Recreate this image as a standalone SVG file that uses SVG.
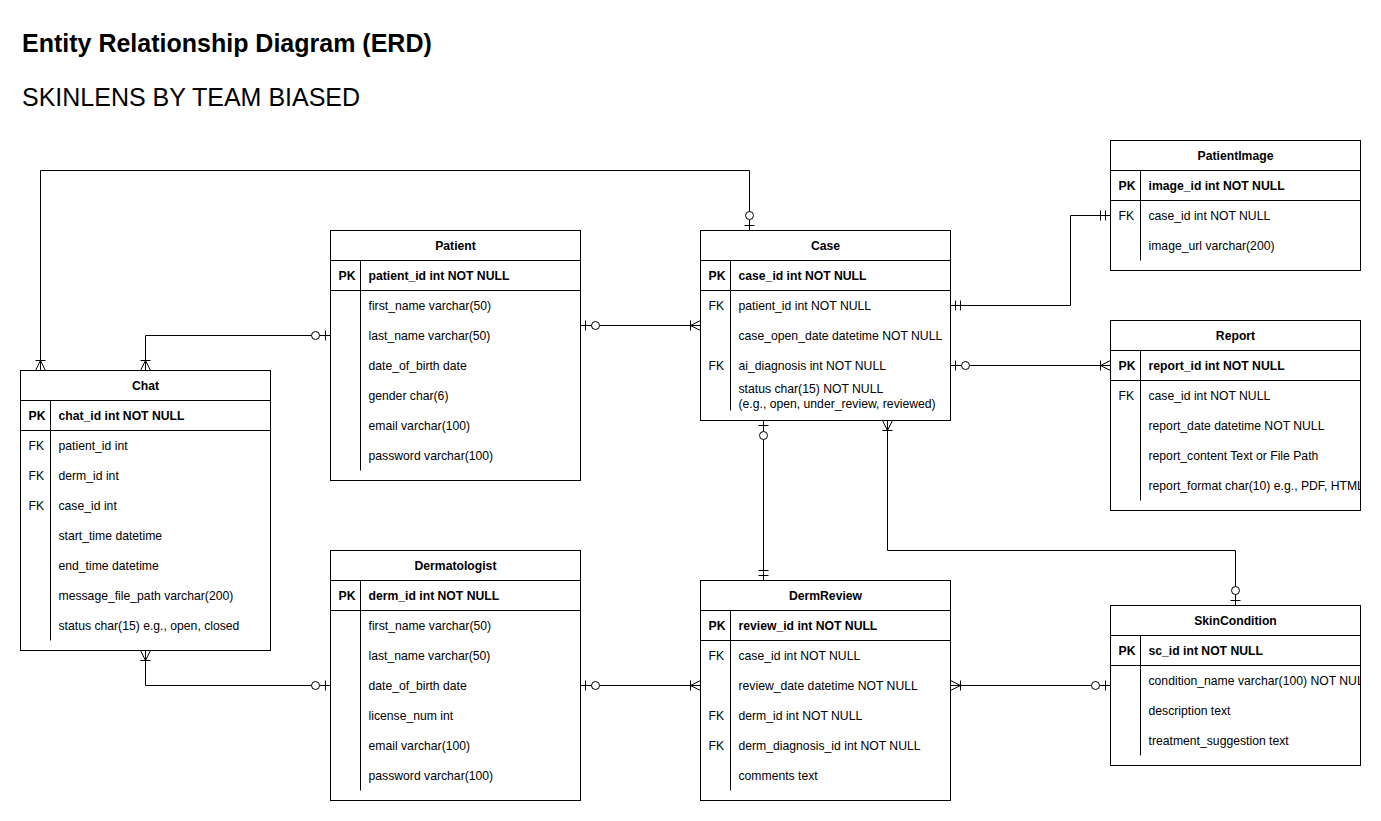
<svg xmlns="http://www.w3.org/2000/svg" width="1381" height="821" viewBox="0 0 1381 821">
<style>
.box{fill:#fff;stroke:#000;stroke-width:1}
.ln{stroke:#000;stroke-width:1;fill:none}
.h{font-family:"Liberation Sans",Arial,sans-serif;font-size:12.2px;font-weight:bold;text-anchor:middle;fill:#000}
.t{font-family:"Liberation Sans",Arial,sans-serif;font-size:12.2px;fill:#000}
.b{font-weight:bold}
.sym{stroke:#000;stroke-width:1;fill:none}
.title{font-family:"Liberation Sans",Arial,sans-serif;font-size:25px;fill:#000}
</style>
<defs>
<g id="zo"><path d="M-5 -5V5"/><circle cx="-15" cy="0" r="4" fill="#fff"/></g>
<g id="mo"><path d="M-5 -5V5M-10 -5V5"/></g>
<g id="om"><path d="M-10 -5V5M0 -5L-10 0L0 5"/></g>
<clipPath id="clipReport"><rect x="1110" y="320" width="250" height="190"/></clipPath>
<clipPath id="clipSkin"><rect x="1110" y="605" width="250" height="160"/></clipPath>
</defs>
<rect width="1381" height="821" fill="#fff"/>
<text x="22" y="52" class="title b">Entity Relationship Diagram (ERD)</text>
<text x="22" y="106" class="title">SKINLENS BY TEAM BIASED</text>
<g transform="translate(0.5,0.5)">
<g id="patient">
<rect x="330" y="230" width="250" height="250" class="box"/>
<path d="M330 260H580M330 290H580M360 260V470" class="ln"/>
<text x="455" y="249.5" class="h">Patient</text>
<text x="338" y="279.5" class="t b">PK</text>
<text x="368" y="279.5" class="t b">patient_id int NOT NULL</text>
<text x="368" y="309.5" class="t">first_name varchar(50)</text>
<text x="368" y="339.5" class="t">last_name varchar(50)</text>
<text x="368" y="369.5" class="t">date_of_birth date</text>
<text x="368" y="399.5" class="t">gender char(6)</text>
<text x="368" y="429.5" class="t">email varchar(100)</text>
<text x="368" y="459.5" class="t">password varchar(100)</text>
</g>
<g id="case">
<rect x="700" y="230" width="250" height="190" class="box"/>
<path d="M700 260H950M700 290H950M730 260V410" class="ln"/>
<text x="825" y="249.5" class="h">Case</text>
<text x="708" y="279.5" class="t b">PK</text>
<text x="738" y="279.5" class="t b">case_id int NOT NULL</text>
<text x="708" y="309.5" class="t">FK</text>
<text x="738" y="309.5" class="t">patient_id int NOT NULL</text>
<text x="738" y="339.5" class="t">case_open_date datetime NOT NULL</text>
<text x="708" y="369.5" class="t">FK</text>
<text x="738" y="369.5" class="t">ai_diagnosis int NOT NULL</text>
<text x="738" y="392" class="t">status char(15) NOT NULL</text>
<text x="738" y="407.5" class="t">(e.g., open, under_review, reviewed)</text>
</g>
<g id="chat">
<rect x="20" y="370" width="250" height="280" class="box"/>
<path d="M20 400H270M20 430H270M50 400V640" class="ln"/>
<text x="145" y="389.5" class="h">Chat</text>
<text x="28" y="419.5" class="t b">PK</text>
<text x="58" y="419.5" class="t b">chat_id int NOT NULL</text>
<text x="28" y="449.5" class="t">FK</text>
<text x="58" y="449.5" class="t">patient_id int</text>
<text x="28" y="479.5" class="t">FK</text>
<text x="58" y="479.5" class="t">derm_id int</text>
<text x="28" y="509.5" class="t">FK</text>
<text x="58" y="509.5" class="t">case_id int</text>
<text x="58" y="539.5" class="t">start_time datetime</text>
<text x="58" y="569.5" class="t">end_time datetime</text>
<text x="58" y="599.5" class="t">message_file_path varchar(200)</text>
<text x="58" y="629.5" class="t">status char(15) e.g., open, closed</text>
</g>
<g id="dermatologist">
<rect x="330" y="550" width="250" height="250" class="box"/>
<path d="M330 580H580M330 610H580M360 580V790" class="ln"/>
<text x="455" y="569.5" class="h">Dermatologist</text>
<text x="338" y="599.5" class="t b">PK</text>
<text x="368" y="599.5" class="t b">derm_id int NOT NULL</text>
<text x="368" y="629.5" class="t">first_name varchar(50)</text>
<text x="368" y="659.5" class="t">last_name varchar(50)</text>
<text x="368" y="689.5" class="t">date_of_birth date</text>
<text x="368" y="719.5" class="t">license_num int</text>
<text x="368" y="749.5" class="t">email varchar(100)</text>
<text x="368" y="779.5" class="t">password varchar(100)</text>
</g>
<g id="dermreview">
<rect x="700" y="580" width="250" height="220" class="box"/>
<path d="M700 610H950M700 640H950M730 610V790" class="ln"/>
<text x="825" y="599.5" class="h">DermReview</text>
<text x="708" y="629.5" class="t b">PK</text>
<text x="738" y="629.5" class="t b">review_id int NOT NULL</text>
<text x="708" y="659.5" class="t">FK</text>
<text x="738" y="659.5" class="t">case_id int NOT NULL</text>
<text x="738" y="689.5" class="t">review_date datetime NOT NULL</text>
<text x="708" y="719.5" class="t">FK</text>
<text x="738" y="719.5" class="t">derm_id int NOT NULL</text>
<text x="708" y="749.5" class="t">FK</text>
<text x="738" y="749.5" class="t">derm_diagnosis_id int NOT NULL</text>
<text x="738" y="779.5" class="t">comments text</text>
</g>
<g id="patientimage">
<rect x="1110" y="140" width="250" height="130" class="box"/>
<path d="M1110 170H1360M1110 200H1360M1140 170V260" class="ln"/>
<text x="1235" y="159.5" class="h">PatientImage</text>
<text x="1118" y="189.5" class="t b">PK</text>
<text x="1148" y="189.5" class="t b">image_id int NOT NULL</text>
<text x="1118" y="219.5" class="t">FK</text>
<text x="1148" y="219.5" class="t">case_id int NOT NULL</text>
<text x="1148" y="249.5" class="t">image_url varchar(200)</text>
</g>
<g id="report">
<rect x="1110" y="320" width="250" height="190" class="box"/>
<path d="M1110 350H1360M1110 380H1360M1140 350V500" class="ln"/>
<text x="1235" y="339.5" class="h">Report</text>
<g clip-path="url(#clipReport)">
<text x="1118" y="369.5" class="t b">PK</text>
<text x="1148" y="369.5" class="t b">report_id int NOT NULL</text>
<text x="1118" y="399.5" class="t">FK</text>
<text x="1148" y="399.5" class="t">case_id int NOT NULL</text>
<text x="1148" y="429.5" class="t">report_date datetime NOT NULL</text>
<text x="1148" y="459.5" class="t">report_content Text or File Path</text>
<text x="1148" y="489.5" class="t">report_format char(10) e.g., PDF, HTML</text>
</g>
</g>
<g id="skincondition">
<rect x="1110" y="605" width="250" height="160" class="box"/>
<path d="M1110 635H1360M1110 665H1360M1140 635V755" class="ln"/>
<text x="1235" y="624.5" class="h">SkinCondition</text>
<g clip-path="url(#clipSkin)">
<text x="1118" y="654.5" class="t b">PK</text>
<text x="1148" y="654.5" class="t b">sc_id int NOT NULL</text>
<text x="1148" y="684.5" class="t">condition_name varchar(100) NOT NULL</text>
<text x="1148" y="714.5" class="t">description text</text>
<text x="1148" y="744.5" class="t">treatment_suggestion text</text>
</g>
</g>
<g id="connectors">
<path class="ln" d="M749 230V170H40V370"/>
<path class="ln" d="M330 335H145V370"/>
<path class="ln" d="M580 325H700"/>
<path class="ln" d="M950 305H1070V215H1110"/>
<path class="ln" d="M950 365H1110"/>
<path class="ln" d="M763 420V580"/>
<path class="ln" d="M887 420V550H1235V605"/>
<path class="ln" d="M145 650V685H330"/>
<path class="ln" d="M580 685H700"/>
<path class="ln" d="M950 685H1110"/>
<g class="sym">
<use href="#zo" transform="translate(749,230) rotate(90)"/>
<use href="#om" transform="translate(40,370) rotate(90)"/>
<use href="#zo" transform="translate(330,335)"/>
<use href="#om" transform="translate(145,370) rotate(90)"/>
<use href="#zo" transform="translate(580,325) rotate(180)"/>
<use href="#om" transform="translate(700,325)"/>
<use href="#mo" transform="translate(950,305) rotate(180)"/>
<use href="#mo" transform="translate(1110,215)"/>
<use href="#zo" transform="translate(950,365) rotate(180)"/>
<use href="#om" transform="translate(1110,365)"/>
<use href="#zo" transform="translate(763,420) rotate(-90)"/>
<use href="#mo" transform="translate(763,580) rotate(90)"/>
<use href="#om" transform="translate(887,420) rotate(-90)"/>
<use href="#zo" transform="translate(1235,605) rotate(90)"/>
<use href="#om" transform="translate(145,650) rotate(-90)"/>
<use href="#zo" transform="translate(330,685)"/>
<use href="#zo" transform="translate(580,685) rotate(180)"/>
<use href="#om" transform="translate(700,685)"/>
<use href="#om" transform="translate(950,685) rotate(180)"/>
<use href="#zo" transform="translate(1110,685)"/>
</g>
</g>
</g>
</svg>
